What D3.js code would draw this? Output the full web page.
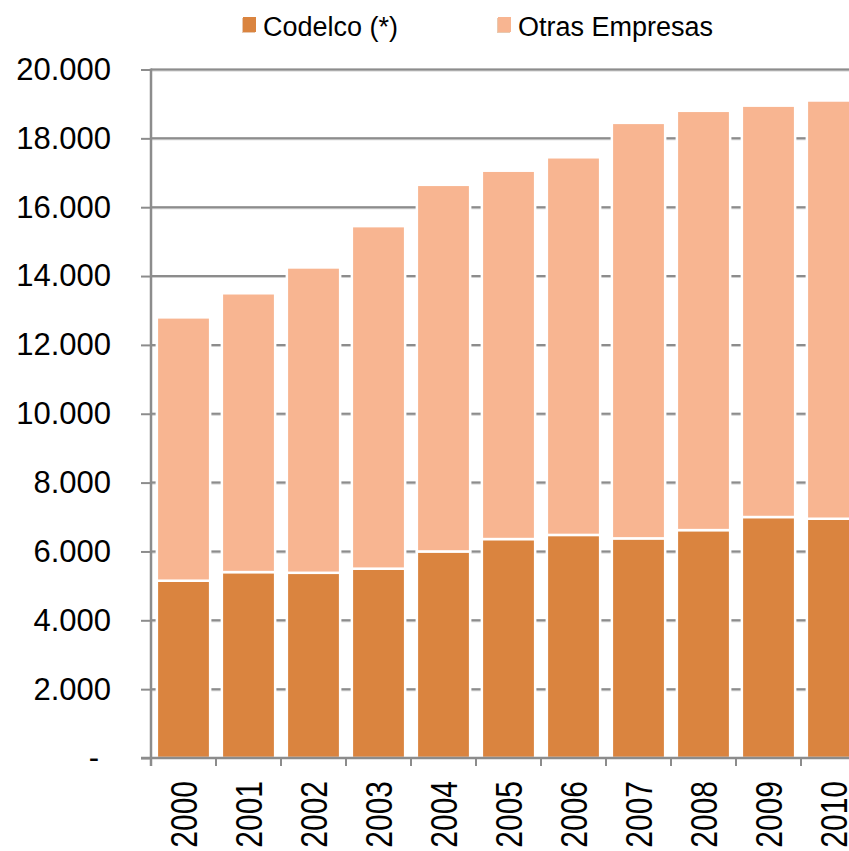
<!DOCTYPE html>
<html>
<head>
<meta charset="utf-8">
<script src="https://cdn.jsdelivr.net/npm/d3@7"></script>
<style>
  html, body { margin: 0; padding: 0; background: #ffffff; }
  svg { display: block; font-family: "Liberation Sans", Arial, sans-serif; }
</style>
</head>
<body>
<svg id="chart" width="849" height="851"></svg>
<script>
// data
const years = ['2000', '2001', '2002', '2003', '2004', '2005', '2006', '2007', '2008', '2009', '2010']
const codelco = [5150, 5400, 5380, 5500, 6000, 6360, 6480, 6380, 6620, 7000, 6950]
const otras = [7650, 8100, 8870, 9950, 10650, 10700, 10970, 12070, 12180, 11950, 12150]
const seriesNames = ['Codelco (*)', 'Otras Empresas']
const seriesColors = ['#DA843F', '#F8B591']
const yTicks = [0, 2000, 4000, 6000, 8000, 10000, 12000, 14000, 16000, 18000, 20000]

const svg = d3.select('#chart')

// plot frame, wider than the window on purpose (last bar is cut)
const plotLeft = 151, plotBase = 758, plotTop = 69.5
const step = 65

const x = d3.scaleBand()
    .domain(years)
    .range([plotLeft, plotLeft + step * years.length])
    .paddingInner(0.18)
    .paddingOuter(0.09)

const y = d3.scaleLinear()
    .domain([0, 20000])
    .range([plotBase, plotTop])

let rows = years.map(function(d, i){
    return {year: d, codelco: codelco[i], otras: otras[i]}
})
let stack = d3.stack().keys(['codelco', 'otras'])(rows)

////////////////////////
/// Gridlines
////////////////////////
svg.append('g')
    .selectAll('line')
    .data(yTicks.filter(d => d > 0))
    .enter()
    .append('line')
    .attr('x1', plotLeft)
    .attr('x2', 849)
    .attr('y1', d => y(d) + 0.5)
    .attr('y2', d => y(d) + 0.5)
    .attr('stroke', '#cfcfcf')
    .attr('stroke-width', 3)

svg.append('g')
    .selectAll('line')
    .data(yTicks.filter(d => d > 0))
    .enter()
    .append('line')
    .attr('x1', plotLeft)
    .attr('x2', 849)
    .attr('y1', d => y(d))
    .attr('y2', d => y(d))
    .attr('stroke', '#8c8c8c')
    .attr('stroke-width', 2)

////////////////////////
/// Bars
////////////////////////
svg.append('g')
    .selectAll('g')
    .data(stack)
    .enter()
    .append('g')
    .attr('fill', (d, i) => seriesColors[i])
    .selectAll('rect')
    .data(d => d)
    .enter()
    .append('rect')
    .attr('x', d => x(d.data.year))
    .attr('width', x.bandwidth())
    .attr('y', d => y(d[1]))
    .attr('height', d => y(d[0]) - y(d[1]))
    .attr('stroke', '#ffffff')
    .attr('stroke-width', 2.5)

////////////////////////
/// Axes
////////////////////////
let yAxis = d3.axisLeft(y)
    .tickValues(yTicks)
    .tickSize(10)
    .tickPadding(30)
    .tickFormat(d => d === 0 ? '-' : d3.format(',')(d).replace(/,/g, '.'))

let gy = svg.append('g')
    .attr('transform', 'translate(' + plotLeft + ',0)')
    .call(yAxis)

gy.select('.domain').remove()
gy.selectAll('.tick line').attr('stroke', '#8c8c8c').attr('stroke-width', 2)
gy.selectAll('.tick text')
    .attr('fill', '#000')
    .attr('font-size', 31)
    .attr('font-family', '"Liberation Sans", Arial, sans-serif')
    .attr('dx', d => d === 0 ? -12 : 0)

// vertical axis line
svg.append('line')
    .attr('x1', plotLeft).attr('x2', plotLeft)
    .attr('y1', plotTop - 1).attr('y2', plotBase + 8)
    .attr('stroke', '#8c8c8c')
    .attr('stroke-width', 2.5)

// base line
svg.append('line')
    .attr('x1', plotLeft - 10).attr('x2', 849)
    .attr('y1', plotBase).attr('y2', plotBase)
    .attr('stroke', '#8c8c8c')
    .attr('stroke-width', 2.5)

// category ticks at band boundaries
svg.append('g')
    .selectAll('line')
    .data(years)
    .enter()
    .append('line')
    .attr('x1', (d, i) => plotLeft + i * step)
    .attr('x2', (d, i) => plotLeft + i * step)
    .attr('y1', plotBase)
    .attr('y2', plotBase + 8)
    .attr('stroke', '#8c8c8c')
    .attr('stroke-width', 2)

// year labels, rotated (glyphs a bit taller than wide, like the source)
svg.append('g')
    .selectAll('text')
    .data(years)
    .enter()
    .append('text')
    .attr('transform', d => 'translate(' + (x(d) + x.bandwidth() / 2 + 1) + ',' + 781 + ') rotate(-90) scale(1,1.2)')
    .attr('text-anchor', 'end')
    .attr('dy', '0.36em')
    .attr('font-size', 30)
    .attr('fill', '#000')
    .text(d => d)

////////////////////////
/// Legend
////////////////////////
const legendX = [242, 497]
let legend = svg.append('g')
    .selectAll('g')
    .data(seriesNames)
    .enter()
    .append('g')
    .attr('transform', (d, i) => 'translate(' + legendX[i] + ',17)')

legend.append('rect')
    .attr('x', 0).attr('y', 1)
    .attr('width', 13).attr('height', 15)
    .attr('fill', '#e8c9b0')

legend.append('rect')
    .attr('x', 1).attr('y', 0)
    .attr('width', 13).attr('height', 15)
    .attr('fill', (d, i) => seriesColors[i])

legend.append('text')
    .attr('x', 21)
    .attr('y', 19)
    .attr('font-size', 27)
    .attr('fill', '#000')
    .text(d => d)
</script>
</body>
</html>
